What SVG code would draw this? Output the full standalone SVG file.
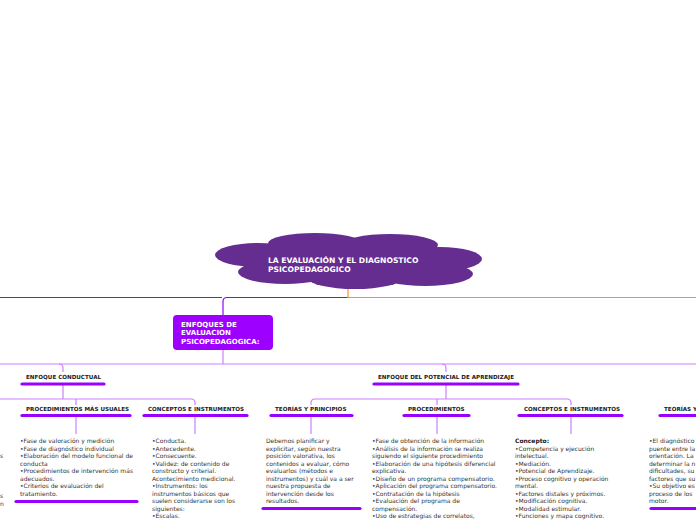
<svg xmlns="http://www.w3.org/2000/svg" width="696" height="520" viewBox="0 0 696 520">
<style>
.bg{fill:#ffffff}
.cloud{fill:#662d91}
.title{font-family:"DejaVu Sans",Verdana,sans-serif;font-weight:bold;font-size:7px;fill:#ffffff}
.big{font-size:7.6px}
.lbl{font-family:"DejaVu Sans",Verdana,sans-serif;font-weight:bold;font-size:5.6px;fill:#1a1a1a}
.body{font-family:"DejaVu Sans",Verdana,sans-serif;font-size:6px;fill:#333333}
.bold{font-weight:bold;fill:#1a1a1a}
.bar{stroke:#9900ff;stroke-width:3.2;stroke-linecap:round;fill:none}
.con{stroke:#cc80ff;stroke-width:1.2;fill:none}
</style>
<rect class="bg" x="0" y="0" width="696" height="520"/>

<g id="connectors">
  <path d="M0 297.5 H222" stroke="#1f4fc8" stroke-width="1.2" fill="none"/>
  <path d="M348 297.5 H227 Q223 297.5 223 301.5 V315" stroke="#9900ff" stroke-width="1.2" fill="none"/>
  <path d="M348 288 V297.5 H696" stroke="#f7941d" stroke-width="1.2" fill="none"/>
  <path class="con" d="M223 349 V364"/>
  <path class="con" d="M0 364 H696"/>
  <path class="con" d="M59 364 Q63 364 63 368 V372"/>
  <path class="con" d="M442 364 Q446 364 446 368 V372"/>
  <path class="con" d="M63 385 V399"/>
  <path class="con" d="M0 399 H191 Q195 399 195 403 V405"/>
  <path class="con" d="M76 399 V405"/>
  <path class="con" d="M446 385 V399"/>
  <path class="con" d="M311 405 V403 Q311 399 315 399 H567 Q571 399 571 403 V405"/>
  <path class="con" d="M437 399 V405"/>
  <path class="con" d="M76 416 V434"/>
  <path class="con" d="M195 416 V434"/>
  <path class="con" d="M311 416 V434"/>
  <path class="con" d="M437 416 V434"/>
  <path class="con" d="M571 416 V434"/>
</g>

<g id="root">
  <ellipse class="cloud" cx="350" cy="260" rx="112" ry="20"/>
  <ellipse class="cloud" cx="258" cy="255" rx="43" ry="12"/>
  <ellipse class="cloud" cx="315" cy="243" rx="47" ry="10"/>
  <ellipse class="cloud" cx="390" cy="245" rx="48" ry="11"/>
  <ellipse class="cloud" cx="440" cy="259" rx="42" ry="12"/>
  <ellipse class="cloud" cx="285" cy="272" rx="47" ry="12"/>
  <ellipse class="cloud" cx="355" cy="278" rx="47" ry="11"/>
  <ellipse class="cloud" cx="425" cy="274" rx="48" ry="12"/>
  <text class="title big" x="268" y="262.5">LA EVALUACIÓN Y EL DIAGNOSTICO</text>
  <text class="title big" x="268" y="272">PSICOPEDAGOGICO</text>
</g>

<g id="enfoques">
  <rect x="173" y="315" width="100" height="35" rx="4" fill="#9e00ff"/>
  <text class="title" x="181" y="326.5">ENFOQUES DE</text>
  <text class="title" x="181" y="335">EVALUACION</text>
  <text class="title" x="181" y="343.5">PSICOPEDAGOGICA:</text>
</g>

<g id="enfoque-conductual">
  <text class="lbl" x="26" y="379">ENFOQUE CONDUCTUAL</text>
  <line class="bar" x1="22" y1="384" x2="104" y2="384"/>
</g>

<g id="enfoque-potencial">
  <text class="lbl" x="378" y="379">ENFOQUE DEL POTENCIAL DE APRENDIZAJE</text>
  <line class="bar" x1="374" y1="384" x2="518" y2="384"/>
</g>

<g id="left-offscreen">
  <text class="body" x="0" y="458">s</text>
  <text class="body" x="0" y="498">s</text>
  <text class="body" x="0" y="505.5">n</text>
</g>

<g id="procedimientos-usuales">
  <text class="lbl" x="26" y="411">PROCEDIMIENTOS MÁS USUALES</text>
  <line class="bar" x1="22" y1="415.5" x2="130" y2="415.5"/>
  <text class="body">
    <tspan x="20" y="443">•Fase de valoración y medición</tspan>
    <tspan x="20" y="450.5">•Fase de diagnóstico individual</tspan>
    <tspan x="20" y="458">•Elaboración del modelo funcional de</tspan>
    <tspan x="20" y="465.5">conducta</tspan>
    <tspan x="20" y="473">•Procedimientos de intervención más</tspan>
    <tspan x="20" y="480.5">adecuados.</tspan>
    <tspan x="20" y="488">•Criterios de evaluación del</tspan>
    <tspan x="20" y="495.5">tratamiento.</tspan>
  </text>
  <line class="bar" x1="16" y1="501.5" x2="137" y2="501.5"/>
</g>

<g id="conceptos-conductual">
  <text class="lbl" x="148" y="411">CONCEPTOS E INSTRUMENTOS</text>
  <line class="bar" x1="144" y1="415.5" x2="247" y2="415.5"/>
  <text class="body">
    <tspan x="152" y="443">•Conducta.</tspan>
    <tspan x="152" y="450.5">•Antecedente.</tspan>
    <tspan x="152" y="458">•Consecuente.</tspan>
    <tspan x="152" y="465.5">•Validez: de contenido de</tspan>
    <tspan x="152" y="473">constructo y criterial.</tspan>
    <tspan x="152" y="480.5">Acontecimiento medicional.</tspan>
    <tspan x="152" y="488">•Instrumentos: los</tspan>
    <tspan x="152" y="495.5">instrumentos básicos que</tspan>
    <tspan x="152" y="503">suelen considerarse son los</tspan>
    <tspan x="152" y="510.5">siguientes:</tspan>
    <tspan x="152" y="518">•Escalas.</tspan>
  </text>
</g>

<g id="teorias-principios">
  <text class="lbl" x="275" y="411">TEORÍAS Y PRINCIPIOS</text>
  <line class="bar" x1="271" y1="415.5" x2="352" y2="415.5"/>
  <text class="body">
    <tspan x="266" y="443">Debemos planificar y</tspan>
    <tspan x="266" y="450.5">explicitar, según nuestra</tspan>
    <tspan x="266" y="458">posición valorativa, los</tspan>
    <tspan x="266" y="465.5">contenidos a evaluar, cómo</tspan>
    <tspan x="266" y="473">evaluarlos (métodos e</tspan>
    <tspan x="266" y="480.5">instrumentos) y cuál va a ser</tspan>
    <tspan x="266" y="488">nuestra propuesta de</tspan>
    <tspan x="266" y="495.5">intervención desde los</tspan>
    <tspan x="266" y="503">resultados.</tspan>
  </text>
  <line class="bar" x1="263" y1="508.5" x2="360" y2="508.5"/>
</g>

<g id="procedimientos">
  <text class="lbl" x="408" y="411">PROCEDIMIENTOS</text>
  <line class="bar" x1="404" y1="415.5" x2="469" y2="415.5"/>
  <text class="body">
    <tspan x="372" y="443">•Fase de obtención de la información</tspan>
    <tspan x="372" y="450.5">•Análisis de la información se realiza</tspan>
    <tspan x="372" y="458">siguiendo el siguiente procedimiento</tspan>
    <tspan x="372" y="465.5">•Elaboración de una hipótesis diferencial</tspan>
    <tspan x="372" y="473">explicativa.</tspan>
    <tspan x="372" y="480.5">•Diseño de un programa compensatorio.</tspan>
    <tspan x="372" y="488">•Aplicación del programa compensatorio.</tspan>
    <tspan x="372" y="495.5">•Contratación de la hipótesis</tspan>
    <tspan x="372" y="503">•Evaluación del programa de</tspan>
    <tspan x="372" y="510.5">compensación.</tspan>
    <tspan x="372" y="518">•Uso de estrategias de correlatos,</tspan>
  </text>
</g>

<g id="conceptos-potencial">
  <text class="lbl" x="524" y="411">CONCEPTOS E INSTRUMENTOS</text>
  <line class="bar" x1="519" y1="415.5" x2="622" y2="415.5"/>
  <text class="body">
    <tspan class="bold" x="515" y="443">Concepto:</tspan>
    <tspan x="515" y="450.5">•Competencia y ejecución</tspan>
    <tspan x="515" y="458">intelectual.</tspan>
    <tspan x="515" y="465.5">•Mediación.</tspan>
    <tspan x="515" y="473">•Potencial de Aprendizaje.</tspan>
    <tspan x="515" y="480.5">•Proceso cognitivo y operación</tspan>
    <tspan x="515" y="488">mental.</tspan>
    <tspan x="515" y="495.5">•Factores distales y próximos.</tspan>
    <tspan x="515" y="503">•Modificación cognitiva.</tspan>
    <tspan x="515" y="510.5">•Modalidad estimular.</tspan>
    <tspan x="515" y="518">•Funciones y mapa cognitivo.</tspan>
  </text>
</g>

<g id="teorias-potencial">
  <text class="lbl" x="664" y="411">TEORÍAS Y</text>
  <line class="bar" x1="660" y1="415.5" x2="700" y2="415.5"/>
  <text class="body">
    <tspan x="649" y="443">•El diagnóstico</tspan>
    <tspan x="649" y="450.5">puente entre la</tspan>
    <tspan x="649" y="458">orientación. La</tspan>
    <tspan x="649" y="465.5">determinar la n</tspan>
    <tspan x="649" y="473">dificultades, su</tspan>
    <tspan x="649" y="480.5">factores que su</tspan>
    <tspan x="649" y="488">•Su objetivo es</tspan>
    <tspan x="649" y="495.5">proceso de los</tspan>
    <tspan x="649" y="503">motor.</tspan>
  </text>
  <line class="bar" x1="651" y1="508.5" x2="700" y2="508.5"/>
</g>
</svg>
